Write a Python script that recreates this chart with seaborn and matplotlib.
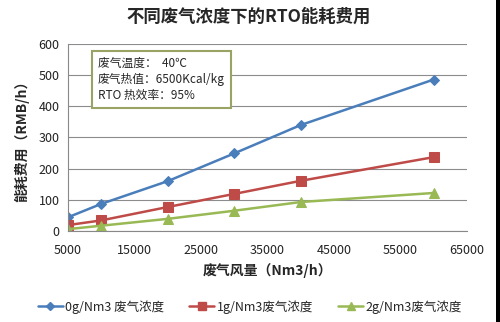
import numpy as np
import pandas as pd
import seaborn as sns
import matplotlib.pyplot as plt
from matplotlib.patches import Rectangle

# Exhaust gas flow rate (Nm3/h)
flow = [5000, 10000, 20000, 30000, 40000, 60000]
# Energy cost (RMB/h) at each exhaust concentration
cost_0g = [44, 87, 160, 249, 340, 486]
cost_1g = [19, 34, 77, 119, 161, 237]
cost_2g = [6, 17, 39, 65, 93, 122]
series_names = ["0g/Nm3 废气浓度", "1g/Nm3废气浓度", "2g/Nm3废气浓度"]
x_ticks = [5000, 15000, 25000, 35000, 45000, 55000, 65000]
y_ticks = [0, 100, 200, 300, 400, 500, 600]

df = pd.concat([
    pd.DataFrame({"flow": flow, "cost": vals, "series": name})
    for name, vals in zip(series_names, [cost_0g, cost_1g, cost_2g])
])

sns.set_theme(style="white")
plt.rcParams["font.family"] = ["Noto Sans CJK SC", "DejaVu Sans"]

colors = ["#4A7EBB", "#BE4B48", "#98B954"]
palette = dict(zip(series_names, colors))
markers = dict(zip(series_names, ["D", "s", "^"]))
msizes = {series_names[0]: 5, series_names[1]: 7, series_names[2]: 7}

fig = plt.figure(figsize=(5.0, 3.22), dpi=100)
ax = fig.add_axes([0.136, 0.2826, 0.798, 0.5808])

for name in series_names:
    sub = df[df["series"] == name]
    sns.lineplot(data=sub, x="flow", y="cost", ax=ax, color=palette[name],
                 marker=markers[name], markersize=msizes[name],
                 markeredgecolor=palette[name], linewidth=1.8, label=name,
                 legend=False)

ax.set_xlim(5000, 65000)
ax.set_ylim(0, 600)
ax.set_xticks(x_ticks)
ax.set_yticks(y_ticks)
ax.tick_params(axis="both", labelsize=9, colors="#222222", length=0, pad=6)
ax.tick_params(axis="x", length=4, width=0.8, color="#888888", direction="out", pad=5)
ax.grid(axis="y", color="#8c8c8c", linewidth=0.8)
ax.set_axisbelow(True)
for side in ["top", "right"]:
    ax.spines[side].set_visible(False)
ax.spines["left"].set_color("#888888")
ax.spines["bottom"].set_color("#888888")
ax.spines["left"].set_linewidth(0.8)
ax.spines["bottom"].set_linewidth(0.8)

ax.set_xlabel("废气风量（Nm3/h）", fontsize=10, fontweight="bold", labelpad=5)
ax.set_ylabel("能耗费用（RMB/h）", fontsize=10, fontweight="bold", labelpad=7)

fig.text(0.497, 0.947, "不同废气浓度下的RTO能耗费用", ha="center", va="center",
         fontsize=12.5, fontweight="bold")

# Operating conditions box
ax.text(0.075, 0.93, "废气温度：  40℃\n废气热值：6500Kcal/kg\nRTO 热效率：95%",
        transform=ax.transAxes, ha="left", va="top", fontsize=8.5,
        linespacing=1.3,
        bbox=dict(boxstyle="square,pad=0.5", facecolor="white",
                  edgecolor="#9aa363", linewidth=1.5))

handles = [plt.Line2D([], [], color=c, marker=m, markersize=s, linewidth=1.8)
           for c, m, s in zip(colors, ["D", "s", "^"], [4, 6, 6])]
fig.legend(handles, series_names, loc="center", bbox_to_anchor=(0.5, 0.047),
           ncol=3, frameon=False, fontsize=9, handlelength=2.0,
           handletextpad=0.2, columnspacing=2.0)

# dark edge along the right side of the image
fig.add_artist(Rectangle((0.992, 0), 0.008, 1, transform=fig.transFigure,
                         facecolor="black", edgecolor="none"))

fig.savefig("out.png", dpi=100)
